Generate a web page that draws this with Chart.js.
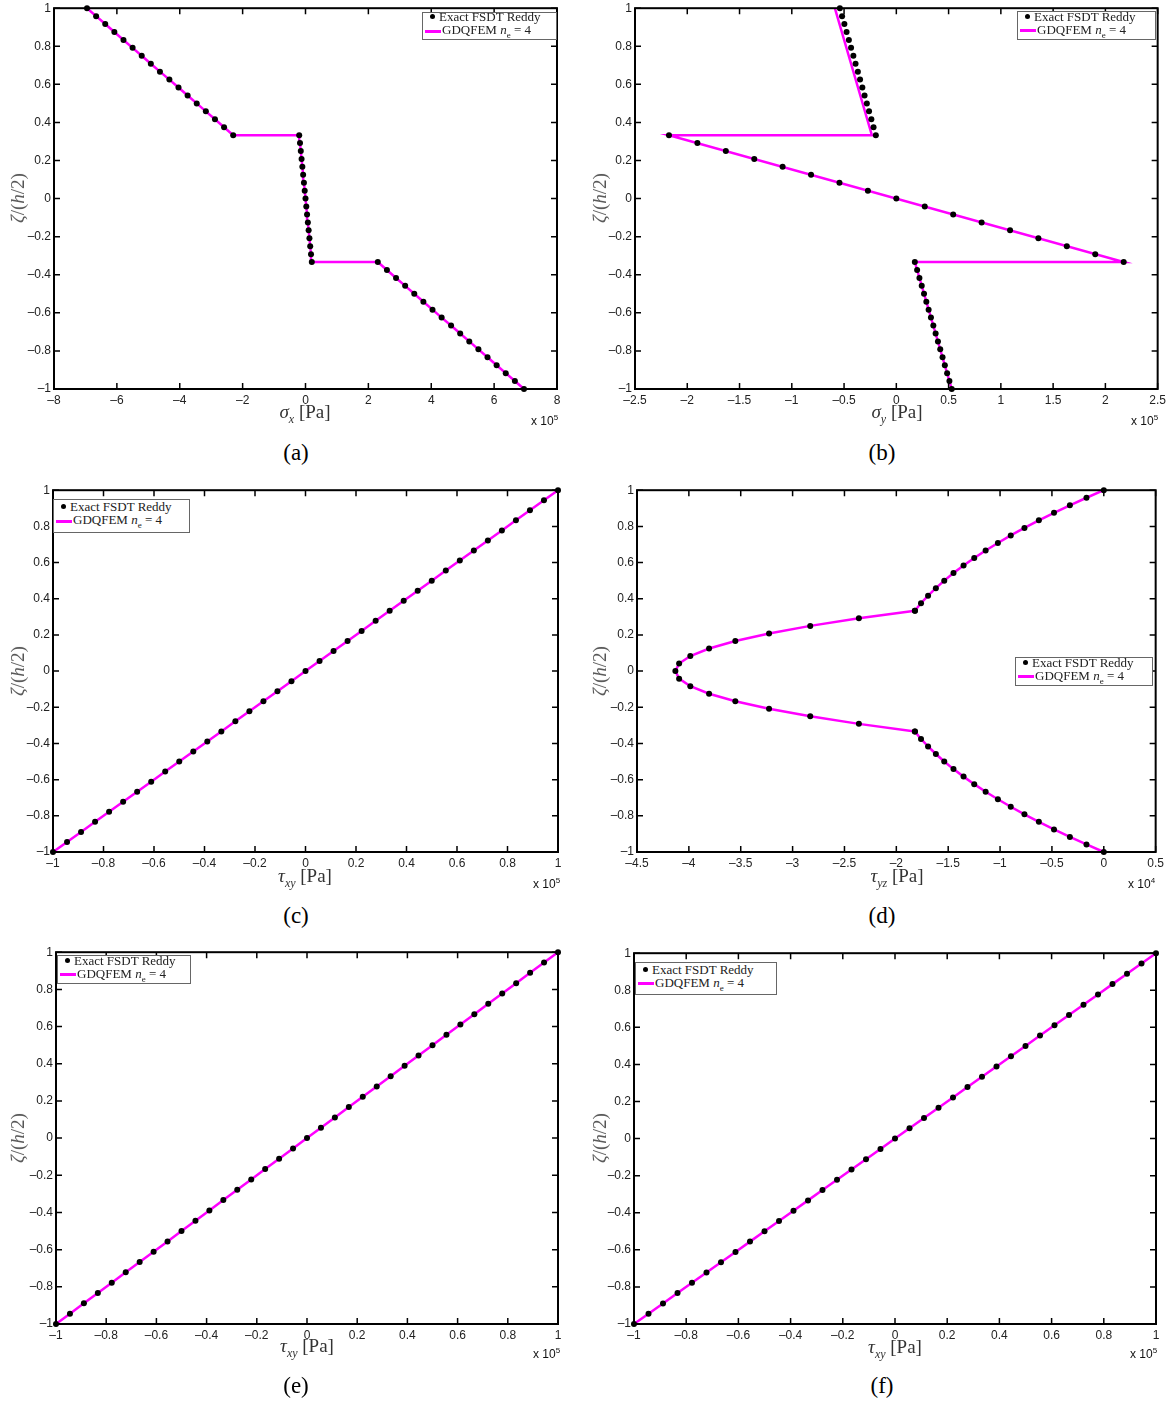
<!DOCTYPE html>
<html>
<head>
<meta charset="utf-8">
<script src="https://cdn.jsdelivr.net/npm/chart.js@4.4.1/dist/chart.umd.min.js"></script>
<style>
  body { margin: 0; background: #fff; }
  #page { position: relative; width: 1174px; height: 1404px; overflow: hidden; }
  canvas { position: absolute; }
  .t { position: absolute; white-space: nowrap; font-family: 'Liberation Serif', 'DejaVu Serif', serif; color: #333; }
  .xt { font-size: 19px; transform: translate(-50%, -50%); }
  .xt sub { font-size: 12px; }
  .yt { font-size: 19px; color: #555; transform: translate(-50%, -50%) rotate(-90deg); }
  .cap { font-size: 23px; color: #000; transform: translate(-50%, -50%); }
  .mul { font-family: 'Liberation Sans Narrow', 'Liberation Sans', sans-serif; font-size: 12px; color: #111; transform: translateY(-50%); }
  .mul sup { font-size: 8px; vertical-align: 5px; }
  .leg { position: absolute; background: #fff; border: 1px solid #666; box-sizing: border-box;
         font-family: 'Liberation Serif', 'DejaVu Serif', serif; font-size: 13px; color: #222;
         display: flex; flex-direction: column; justify-content: center; padding-left: 2px; line-height: 13px; }
  .leg .dot { display: inline-block; width: 5px; height: 5px; border-radius: 50%; background: #000; margin: 0 4px 2px 5px; }
  .leg .ln { display: inline-block; width: 16px; height: 3px; background: #f0f; vertical-align: middle; margin-right: 1px; }
  .leg sub { font-size: 9px; }
</style>
</head>
<body>
<div id="page"></div>
<script>
// zeta/(h/2) stations, three layers of 17 points (interfaces repeated)
const zeta = [
  -1, -0.9583, -0.9167, -0.875, -0.8333, -0.7917, -0.75, -0.7083, -0.6667, -0.625, -0.5833, -0.5417, -0.5, -0.4583, -0.4167, -0.375, -0.3333,
  -0.3333, -0.2917, -0.25, -0.2083, -0.1667, -0.125, -0.0833, -0.0417, 0, 0.0417, 0.0833, 0.125, 0.1667, 0.2083, 0.25, 0.2917, 0.3333,
  0.3333, 0.375, 0.4167, 0.4583, 0.5, 0.5417, 0.5833, 0.625, 0.6667, 0.7083, 0.75, 0.7917, 0.8333, 0.875, 0.9167, 0.9583, 1
];

// sigma_x  (x 10^5 Pa)
const sigmaX = [
  6.95, 6.66, 6.37, 6.08, 5.79, 5.50, 5.21, 4.92, 4.63, 4.33, 4.04, 3.75, 3.46, 3.17, 2.88, 2.59, 2.30,
  0.20, 0.175, 0.15, 0.125, 0.10, 0.075, 0.05, 0.025, 0, -0.025, -0.05, -0.075, -0.10, -0.125, -0.15, -0.175, -0.20,
  -2.30, -2.59, -2.88, -3.17, -3.46, -3.75, -4.04, -4.33, -4.63, -4.92, -5.21, -5.50, -5.79, -6.08, -6.37, -6.66, -6.95
];

// sigma_y exact points (x 10^5 Pa)
const sigmaY = [
  0.530, 0.508, 0.486, 0.464, 0.442, 0.420, 0.398, 0.376, 0.354, 0.331, 0.309, 0.287, 0.265, 0.243, 0.221, 0.199, 0.177,
  2.175, 1.903, 1.631, 1.359, 1.088, 0.816, 0.544, 0.272, 0, -0.272, -0.544, -0.816, -1.088, -1.359, -1.631, -1.903, -2.175,
  -0.196, -0.218, -0.239, -0.261, -0.282, -0.304, -0.325, -0.347, -0.368, -0.390, -0.411, -0.433, -0.454, -0.476, -0.497, -0.519, -0.540
];
// sigma_y GDQFEM line (layer end values)
const sigmaYLine = [0.53, 0.177, 2.175, -2.175, -0.234, -0.588];
const zetaLine = [-1, -0.3333, -0.3333, 0.3333, 0.3333, 1];

// tau_yz  (x 10^4 Pa)
const tauYZ = [
  0, -0.167, -0.327, -0.480, -0.626, -0.765, -0.897, -1.021, -1.139, -1.249, -1.352, -1.449, -1.538, -1.619, -1.694, -1.762, -1.822,
  -1.82, -2.361, -2.83, -3.227, -3.552, -3.805, -3.986, -4.094, -4.13, -4.094, -3.986, -3.805, -3.552, -3.227, -2.83, -2.361, -1.82,
  -1.822, -1.762, -1.694, -1.619, -1.538, -1.449, -1.352, -1.249, -1.139, -1.021, -0.897, -0.765, -0.626, -0.480, -0.327, -0.167, 0
];

// tau_xy (x 10^5 Pa), used in (c), (e), (f)
const zetaShear = [
  -1, -0.9444, -0.8889, -0.8333, -0.7778, -0.7222, -0.6667, -0.6111, -0.5556, -0.5, -0.4444, -0.3889, -0.3333,
  -0.2778, -0.2222, -0.1667, -0.1111, -0.0556, 0, 0.0556, 0.1111, 0.1667, 0.2222, 0.2778, 0.3333, 0.3889,
  0.4444, 0.5, 0.5556, 0.6111, 0.6667, 0.7222, 0.7778, 0.8333, 0.8889, 0.9444, 1
];
const tauXY = [
  -1, -0.9444, -0.8889, -0.8333, -0.7778, -0.7222, -0.6667, -0.6111, -0.5556, -0.5, -0.4444, -0.3889, -0.3333,
  -0.2778, -0.2222, -0.1667, -0.1111, -0.0556, 0, 0.0556, 0.1111, 0.1667, 0.2222, 0.2778, 0.3333, 0.3889,
  0.4444, 0.5, 0.5556, 0.6111, 0.6667, 0.7222, 0.7778, 0.8333, 0.8889, 0.9444, 1
];

const page = document.getElementById('page');
const tickFont = { family: "'Liberation Sans Narrow', 'Liberation Sans', sans-serif", size: 12 };
const fmt = v => String(Math.round(v * 100) / 100).replace('-', '\u2013');
const pts = (xs, zs) => xs.map((v, i) => ({ x: v, y: zs[i] }));

// box + inward ticks on all four sides
const frame = {
  id: 'frame',
  afterDatasetsDraw(chart) {
    const { ctx, chartArea: a, scales: { x, y } } = chart;
    ctx.save();
    ctx.strokeStyle = '#000';
    ctx.lineWidth = 1.5;
    ctx.beginPath();
    x.ticks.forEach(t => {
      const px = x.getPixelForValue(t.value);
      ctx.moveTo(px, a.bottom); ctx.lineTo(px, a.bottom - 6);
      ctx.moveTo(px, a.top); ctx.lineTo(px, a.top + 6);
    });
    y.ticks.forEach(t => {
      const py = y.getPixelForValue(t.value);
      ctx.moveTo(a.left, py); ctx.lineTo(a.left + 6, py);
      ctx.moveTo(a.right, py); ctx.lineTo(a.right - 6, py);
    });
    ctx.stroke();
    ctx.lineWidth = 2;
    ctx.strokeRect(a.left, a.top, a.right - a.left, a.bottom - a.top);
    ctx.restore();
  }
};

const panels = [
  { box: [54, 557, 8, 389], x: sigmaX, z: zeta, lx: sigmaX, lz: zeta, min: -8, max: 8, step: 2,
    title: '<i>σ<sub>x</sub></i> [Pa]', tpos: [305, 414], mul: 5, mpos: [531, 420], cap: '(a)', cpos: [296, 453], ypos: [18, 198],
    leg: [422, 12, 135, 28] },
  { box: [635, 1158, 8, 389], x: sigmaY, z: zeta, lx: sigmaYLine, lz: zetaLine, min: -2.5, max: 2.5, step: 0.5,
    title: '<i>σ<sub>y</sub></i> [Pa]', tpos: [897, 414], mul: 5, mpos: [1131, 420], cap: '(b)', cpos: [882, 453], ypos: [600, 198],
    leg: [1017, 11, 139, 29] },
  { box: [53, 558, 490, 852], x: tauXY, z: zetaShear, lx: tauXY, lz: zetaShear, min: -1, max: 1, step: 0.2,
    title: '<i>τ<sub>xy</sub></i> [Pa]', tpos: [305, 878], mul: 5, mpos: [533, 883], cap: '(c)', cpos: [296, 916], ypos: [18, 671],
    leg: [53, 499, 137, 34] },
  { box: [637, 1156, 490, 852], x: tauYZ, z: zeta, lx: tauYZ, lz: zeta, min: -4.5, max: 0.5, step: 0.5,
    title: '<i>τ<sub>yz</sub></i> [Pa]', tpos: [897, 878], mul: 4, mpos: [1128, 883], cap: '(d)', cpos: [882, 916], ypos: [600, 671],
    leg: [1015, 657, 138, 29] },
  { box: [56, 558, 952, 1324], x: tauXY, z: zetaShear, lx: tauXY, lz: zetaShear, min: -1, max: 1, step: 0.2,
    title: '<i>τ<sub>xy</sub></i> [Pa]', tpos: [307, 1348], mul: 5, mpos: [533, 1353], cap: '(e)', cpos: [296, 1386], ypos: [18, 1138],
    leg: [57, 955, 134, 29] },
  { box: [634, 1156, 953, 1324], x: tauXY, z: zetaShear, lx: tauXY, lz: zetaShear, min: -1, max: 1, step: 0.2,
    title: '<i>τ<sub>xy</sub></i> [Pa]', tpos: [895, 1349], mul: 5, mpos: [1130, 1353], cap: '(f)', cpos: [882, 1386], ypos: [600, 1138],
    leg: [635, 962, 142, 33] }
];

function addText(cls, html, x, y) {
  const d = document.createElement('div');
  d.className = 't ' + cls;
  d.innerHTML = html;
  d.style.left = x + 'px';
  d.style.top = y + 'px';
  page.appendChild(d);
}

panels.forEach(p => {
  const padL = 44, padT = 10, padR = 12, padB = 26;
  const cv = document.createElement('canvas');
  cv.width = p.box[1] - p.box[0] + padL + padR;
  cv.height = p.box[3] - p.box[2] + padT + padB;
  cv.style.left = (p.box[0] - padL) + 'px';
  cv.style.top = (p.box[2] - padT) + 'px';
  page.appendChild(cv);

  new Chart(cv, {
    type: 'scatter',
    data: {
      datasets: [
        { label: 'Exact FSDT Reddy', data: pts(p.x, p.z), showLine: false, pointRadius: 3,
          pointBackgroundColor: '#000', pointBorderColor: '#000', pointBorderWidth: 0, clip: false, order: 0 },
        { label: 'GDQFEM', data: pts(p.lx, p.lz), showLine: true, borderColor: '#ff00ff', borderWidth: 2.5,
          pointRadius: 0, tension: 0, clip: false, order: 1 }
      ]
    },
    options: {
      responsive: false,
      animation: false,
      devicePixelRatio: 1,
      layout: { padding: { left: 0, top: padT, right: padR, bottom: 0 } },
      plugins: { legend: { display: false }, tooltip: { enabled: false } },
      scales: {
        x: {
          type: 'linear', min: p.min, max: p.max,
          grid: { display: false, drawTicks: false }, border: { display: false },
          ticks: { stepSize: p.step, autoSkip: false, maxRotation: 0, padding: 4, font: tickFont, color: '#222', callback: fmt },
          afterFit: s => { s.height = padB; }
        },
        y: {
          type: 'linear', min: -1, max: 1,
          grid: { display: false, drawTicks: false }, border: { display: false },
          ticks: { stepSize: 0.2, autoSkip: false, padding: 3, font: tickFont, color: '#222', callback: fmt },
          afterFit: s => { s.width = padL; }
        }
      }
    },
    plugins: [frame]
  });

  addText('xt', p.title, p.tpos[0], p.tpos[1]);
  addText('yt', '<i>ζ</i>/(<i>h</i>/2)', p.ypos[0], p.ypos[1]);
  addText('mul', 'x 10<sup>' + p.mul + '</sup>', p.mpos[0], p.mpos[1]);
  addText('cap', p.cap, p.cpos[0], p.cpos[1]);

  const lg = document.createElement('div');
  lg.className = 'leg';
  lg.style.left = p.leg[0] + 'px';
  lg.style.top = p.leg[1] + 'px';
  lg.style.width = p.leg[2] + 'px';
  lg.style.height = p.leg[3] + 'px';
  lg.innerHTML = '<div><span class="dot"></span>Exact FSDT Reddy</div>' +
                 '<div><span class="ln"></span>GDQFEM <i>n</i><sub>e</sub> = 4</div>';
  page.appendChild(lg);
});
</script>
</body>
</html>
